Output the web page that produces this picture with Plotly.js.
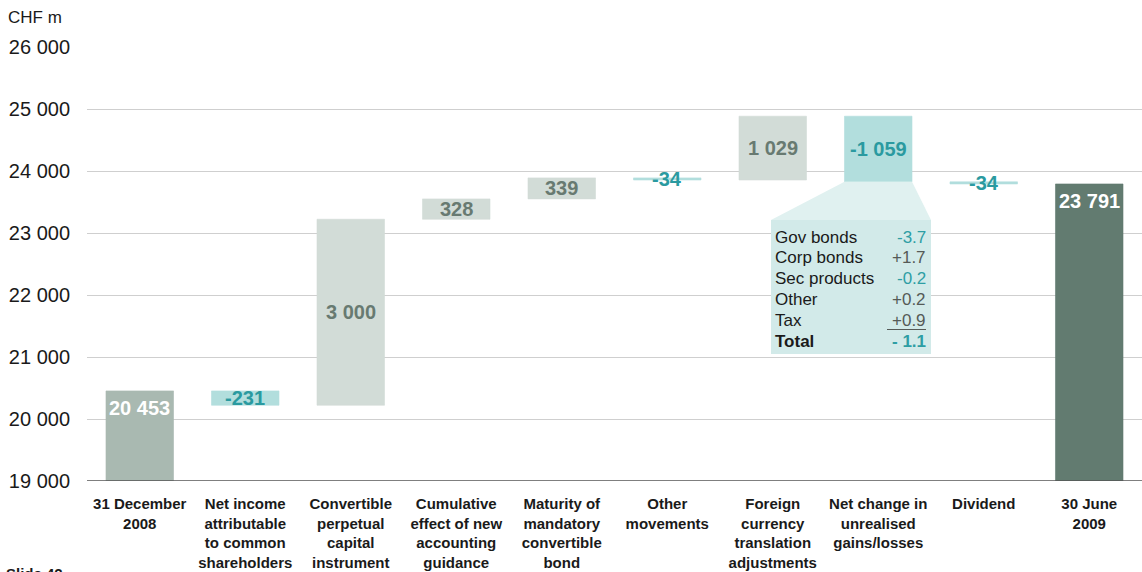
<!DOCTYPE html>
<html>
<head>
<meta charset="utf-8">
<script src="https://cdn.plot.ly/plotly-3.0.1.min.js"></script>
<style>
  html, body { margin: 0; padding: 0; background: #fff; }
  #chart { width: 1142px; height: 572px; }
</style>
</head>
<body>
<div id="chart"></div>
<script>
// Equity movement, CHF m
const categories = [
  "31 December<br>2008",
  "Net income<br>attributable<br>to common<br>shareholders",
  "Convertible<br>perpetual<br>capital<br>instrument",
  "Cumulative<br>effect of new<br>accounting<br>guidance",
  "Maturity of<br>mandatory<br>convertible<br>bond",
  "Other<br>movements",
  "Foreign<br>currency<br>translation<br>adjustments",
  "Net change in<br>unrealised<br>gains/losses",
  "Dividend",
  "30 June<br>2009"
];
const openingTotal = 20453;
const changes = [-231, 3000, 328, 339, -34, 1029, -1059, -34];
const closingTotal = 23791;

// Breakdown of the unrealised gains/losses change (CHF bn)
const breakdownLabels = ["Gov bonds", "Corp bonds", "Sec products", "Other", "Tax", "Total"];
const breakdownValues = ["-3.7", "+1.7", "-0.2", "+0.2", "+0.9", "- 1.1"];

const yTicks = [19000, 20000, 21000, 22000, 23000, 24000, 25000, 26000];

// ---- styling ----
const FONT = "'Liberation Sans', Arial, Helvetica, sans-serif";
const COL_START = "#a9b9b1";
const COL_END = "#627b70";
const COL_UP = "#d2dcd7";
const COL_DOWN = "#b2dedd";
const TXT_UP = "#687a71";
const TXT_DOWN = "#2a9aa0";

// build waterfall geometry
const bases = [], heights = [], colors = [], anns = [];
const fmt = v => {
  const s = Math.abs(v).toString().replace(/\B(?=(\d{3})+(?!\d))/g, " ");
  return (v < 0 ? "-" : "") + s;
};
bases.push(0); heights.push(openingTotal); colors.push(COL_START);
let level = openingTotal;
const mids = [];
changes.forEach(d => {
  const lo = Math.min(level, level + d);
  bases.push(lo); heights.push(Math.abs(d));
  colors.push(d >= 0 ? COL_UP : COL_DOWN);
  mids.push({ y: lo + Math.abs(d) / 2, d: d, lo: lo });
  level += d;
});
bases.push(0); heights.push(closingTotal); colors.push(COL_END);

// value labels
anns.push({ x: categories[0], y: openingTotal, yanchor: "top", yshift: -4, text: "<b>" + fmt(openingTotal) + "</b>",
  showarrow: false, font: { family: FONT, size: 20, color: "#ffffff" } });
mids.forEach((m, i) => {
  anns.push({ x: categories[i + 1], y: m.y, yanchor: "middle", text: "<b>" + fmt(m.d) + "</b>",
    showarrow: false, font: { family: FONT, size: 20, color: m.d >= 0 ? TXT_UP : TXT_DOWN } });
});
anns.push({ x: categories[9], y: closingTotal, yanchor: "top", yshift: -4, text: "<b>" + fmt(closingTotal) + "</b>",
  showarrow: false, font: { family: FONT, size: 20, color: "#ffffff" } });

// plot geometry (pixels) used for the callout placement
const L = 87, T = 47, W = 1055, H = 434;
const px2x = px => (px - L) / (W / 10) - 0.5;
const py2y = py => 19000 + (T + H - py) / H * 7000;

// callout for the unrealised gains/losses bar (index 7)
const ci = 7;
const barHalf = 0.32;
const calloutTop = mids[ci - 1].lo;
const boxL = px2x(771), boxR = px2x(931), boxT = py2y(220), boxB = py2y(354);
const shapes = [
  { type: "path", xref: "x", yref: "y", layer: "above",
    path: `M ${ci - barHalf} ${calloutTop} L ${ci + barHalf} ${calloutTop} L ${boxR} ${boxT} L ${boxL} ${boxT} Z`,
    fillcolor: "#e0f1f0", line: { width: 0 } },
  { type: "rect", xref: "x", yref: "y", layer: "above",
    x0: boxL, x1: boxR, y0: boxB, y1: boxT, fillcolor: "#d2eae9", line: { width: 0 } }
];
breakdownLabels.forEach((lab, i) => {
  const yc = py2y(237 + i * 20.8);
  const isTotal = i === breakdownLabels.length - 1;
  const val = breakdownValues[i];
  const neg = val.trim().startsWith("-");
  anns.push({ xref: "x", yref: "y", x: px2x(773), y: yc, xanchor: "left", yanchor: "middle",
    text: isTotal ? "<b>" + lab + "</b>" : lab, showarrow: false,
    font: { family: FONT, size: 17, color: "#1a1a1a" } });
  anns.push({ xref: "x", yref: "y", x: px2x(928), y: yc, xanchor: "right", yanchor: "middle",
    text: isTotal ? "<b>" + val + "</b>" : val, showarrow: false,
    font: { family: FONT, size: 17, color: neg ? "#2e9ea4" : "#555a57" } });
});
// sum rule under the last addend
shapes.push({ type: "line", xref: "x", yref: "y", layer: "above",
  x0: px2x(887), x1: px2x(926), y0: py2y(329.5), y1: py2y(329.5),
  line: { color: "#555a57", width: 1 } });

// page texts
anns.push({ xref: "paper", yref: "paper", x: -L / W, y: 1 + (T - 18) / H, xanchor: "left", yanchor: "middle",
  xshift: 6, text: "CHF m", showarrow: false, font: { family: FONT, size: 17, color: "#1a1a1a" } });
anns.push({ xref: "paper", yref: "paper", x: -L / W, y: -(563 - T - H) / H, xanchor: "left", yanchor: "top",
  xshift: 4, text: "<b>Slide 42</b>", showarrow: false, font: { family: FONT, size: 15, color: "#1a1a1a" } });

const trace = {
  type: "bar",
  x: categories,
  y: heights,
  base: bases,
  marker: { color: colors, line: { color: colors, width: 0.6 } },
  hoverinfo: "skip",
  showlegend: false
};

const layout = {
  width: 1142, height: 572,
  margin: { l: L, r: 0, t: T, b: 572 - T - H },
  paper_bgcolor: "#ffffff", plot_bgcolor: "#ffffff",
  separators: ". ",
  bargap: 0.36,
  font: { family: FONT, color: "#1a1a1a" },
  xaxis: {
    type: "category", range: [-0.5, 9.5], fixedrange: true,
    showgrid: false, zeroline: false, showline: false,
    ticks: "", ticklabelstandoff: 12,
    tickfont: { family: FONT, size: 15, color: "#1a1a1a", weight: "bold" }
  },
  yaxis: {
    range: [19000, 26000], tickvals: yTicks, tickformat: ",d",
    showgrid: true, gridcolor: "#cfcfcf", gridwidth: 1,
    zeroline: false, showline: false, ticks: "", ticklabelstandoff: 16,
    tickfont: { family: FONT, size: 20, color: "#1a1a1a" }
  },
  shapes: shapes.concat([
    { type: "line", xref: "paper", yref: "y", x0: 0, x1: 1, y0: 19000, y1: 19000,
      line: { color: "#555555", width: 1.5 } }
  ]),
  annotations: anns
};

Plotly.newPlot("chart", [trace], layout, { staticPlot: true, displayModeBar: false });
</script>
</body>
</html>
